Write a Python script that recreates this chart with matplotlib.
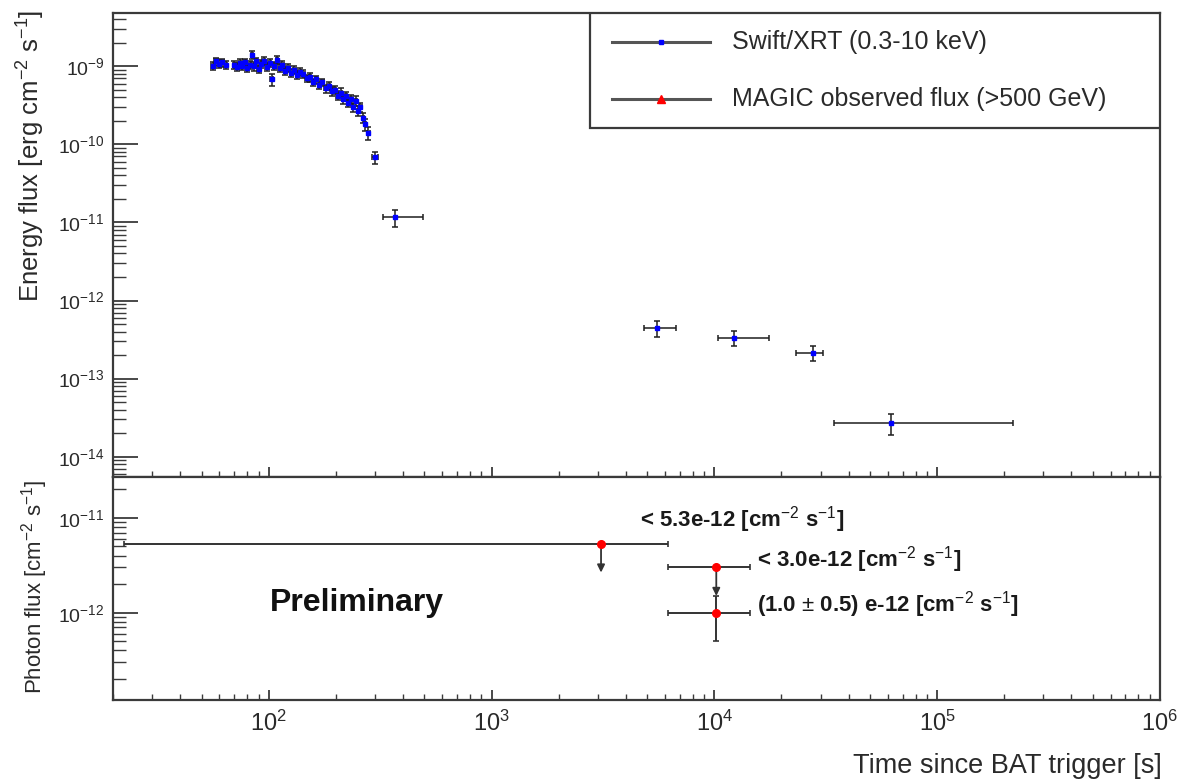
import numpy as np
import matplotlib
matplotlib.use("Agg")
import matplotlib.pyplot as plt
from matplotlib.ticker import LogLocator, NullFormatter, FuncFormatter, FixedLocator
from matplotlib.lines import Line2D
from matplotlib.patches import Rectangle

plt.rcParams['font.family'] = ['Liberation Sans', 'DejaVu Sans']
plt.rcParams['mathtext.fontset'] = 'custom'
plt.rcParams['mathtext.rm'] = 'Liberation Sans'
plt.rcParams['mathtext.it'] = 'Liberation Sans:italic'
plt.rcParams['mathtext.bf'] = 'Liberation Sans:bold'

# ---- Swift/XRT energy flux (0.3-10 keV) ----
xrt_time = [56, 58, 60, 62, 64,
            70, 72, 74, 76, 78, 80, 82, 84, 86, 88, 90, 92,
            95, 98, 101, 103, 106, 109, 112, 115, 118,
            122, 126, 130, 134, 138,
            143, 148, 153, 158, 163, 168,
            174, 180, 186, 192, 198, 204, 210, 216, 222, 228, 234, 240, 246,
            252, 258, 264, 270,
            280, 300, 370,
            5500, 12300, 27600, 62000]
xrt_time_lo = [1.0, 1.0, 1.0, 1.0, 1.0,
               1.0, 1.0, 1.0, 1.0, 1.0, 1.0, 1.0, 1.0, 1.0, 1.0, 1.0, 1.0,
               1.5, 1.5, 1.5, 1.5, 1.5, 1.5, 1.5, 1.5, 1.5,
               2.0, 2.0, 2.0, 2.0, 2.0,
               2.0, 2.0, 2.0, 2.0, 2.0, 2.0,
               3.0, 3.0, 3.0, 3.0, 3.0, 3.0, 3.0, 3.0, 3.0, 3.0, 3.0, 3.0, 3.0,
               3.0, 3.0, 3.0, 3.0,
               5.0, 8.0, 44.0,
               650, 1900, 4400, 27700]
xrt_time_hi = [1.0, 1.0, 1.0, 1.0, 1.0,
               1.0, 1.0, 1.0, 1.0, 1.0, 1.0, 1.0, 1.0, 1.0, 1.0, 1.0, 1.0,
               1.5, 1.5, 1.5, 1.5, 1.5, 1.5, 1.5, 1.5, 1.5,
               2.0, 2.0, 2.0, 2.0, 2.0,
               2.0, 2.0, 2.0, 2.0, 2.0, 2.0,
               3.0, 3.0, 3.0, 3.0, 3.0, 3.0, 3.0, 3.0, 3.0, 3.0, 3.0, 3.0, 3.0,
               3.0, 3.0, 3.0, 3.0,
               5.0, 8.0, 124.0,
               1200, 5200, 3000, 158000]
xrt_flux = [1.02e-9, 1.15e-9, 1.08e-9, 1.12e-9, 1.05e-9,
            1.05e-9, 0.98e-9, 1.10e-9, 1.02e-9, 1.12e-9, 0.95e-9, 1.05e-9, 1.40e-9,
            1.00e-9, 1.15e-9, 0.92e-9, 1.08e-9,
            1.18e-9, 0.98e-9, 1.10e-9, 0.68e-9, 1.02e-9, 1.20e-9, 0.95e-9, 1.05e-9, 0.88e-9,
            0.95e-9, 0.82e-9, 0.90e-9, 0.78e-9, 0.85e-9,
            0.80e-9, 0.70e-9, 0.72e-9, 0.62e-9, 0.68e-9, 0.58e-9,
            0.62e-9, 0.52e-9, 0.56e-9, 0.48e-9, 0.50e-9, 0.42e-9, 0.46e-9, 0.38e-9,
            0.42e-9, 0.34e-9, 0.38e-9, 0.30e-9, 0.36e-9,
            0.27e-9, 0.30e-9, 0.22e-9, 0.18e-9,
            1.4e-10, 6.8e-11, 1.16e-11,
            4.4e-13, 3.35e-13, 2.15e-13, 2.7e-14]
xrt_flux_err = [0.12e-9, 0.14e-9, 0.13e-9, 0.13e-9, 0.12e-9,
                0.12e-9, 0.11e-9, 0.13e-9, 0.12e-9, 0.13e-9, 0.11e-9, 0.12e-9, 0.17e-9,
                0.12e-9, 0.14e-9, 0.11e-9, 0.13e-9,
                0.14e-9, 0.12e-9, 0.13e-9, 0.12e-9, 0.12e-9, 0.14e-9, 0.11e-9, 0.12e-9, 0.10e-9,
                0.11e-9, 0.10e-9, 0.11e-9, 0.09e-9, 0.10e-9,
                0.09e-9, 0.08e-9, 0.09e-9, 0.07e-9, 0.08e-9, 0.07e-9,
                0.07e-9, 0.06e-9, 0.07e-9, 0.06e-9, 0.06e-9, 0.05e-9, 0.06e-9, 0.05e-9,
                0.05e-9, 0.04e-9, 0.05e-9, 0.04e-9, 0.05e-9,
                0.04e-9, 0.04e-9, 0.035e-9, 0.03e-9,
                2.5e-11, 1.2e-11, 2.8e-12,
                1.0e-13, 0.7e-13, 0.45e-13, 0.8e-14]

# ---- MAGIC photon flux (>500 GeV) ----
magic_time = [3100, 10200, 10200]
magic_time_start = [22.4, 6200, 6200]
magic_time_stop = [6200, 14400, 14400]
magic_flux = [5.3e-12, 3.0e-12, 1.0e-12]
magic_flux_err = [0.0, 0.0, 0.5e-12]
magic_is_upper_limit = [True, True, False]
magic_labels = [r"< 5.3e-12 [cm$^{-2}$ s$^{-1}$]",
                r"< 3.0e-12 [cm$^{-2}$ s$^{-1}$]",
                r"(1.0 $\pm$ 0.5) e-12 [cm$^{-2}$ s$^{-1}$]"]
magic_label_pos = [(4640, 9.5e-12), (15600, 3.6e-12), (15600, 1.21e-12)]

x_decades = [2, 3, 4, 5, 6]
top_decades = [-9, -10, -11, -12, -13, -14]
bottom_decades = [-11, -12]

# ---- figure layout ----
W, H = 1185, 784
fig = plt.figure(figsize=(W / 100, H / 100), dpi=100)
ax_top = fig.add_axes([113 / W, (H - 477) / H, 1047 / W, 464 / H])
ax_bot = fig.add_axes([113 / W, (H - 700) / H, 1047 / W, 223 / H])

axis_col = '#3a3a3a'
text_col = '#2a2a2a'


def pow10(v, pos=None):
    return r'$10^{%d}$' % int(round(np.log10(v)))


for ax, decs in ((ax_top, top_decades), (ax_bot, bottom_decades)):
    ax.set_xscale('log')
    ax.set_yscale('log')
    ax.set_xlim(20, 1e6)
    for s in ax.spines.values():
        s.set_color(axis_col)
        s.set_linewidth(1.6)
    ax.xaxis.set_major_locator(FixedLocator([10.0 ** d for d in x_decades]))
    ax.xaxis.set_minor_locator(LogLocator(base=10, subs=np.arange(2, 10), numticks=100))
    ax.yaxis.set_major_locator(FixedLocator([10.0 ** d for d in decs]))
    ax.yaxis.set_minor_locator(LogLocator(base=10, subs=np.arange(2, 10), numticks=100))
    ax.yaxis.set_major_formatter(FuncFormatter(pow10))
    ax.yaxis.set_minor_formatter(NullFormatter())
    ax.xaxis.set_minor_formatter(NullFormatter())
    ax.tick_params(axis='y', which='major', direction='in', length=18, width=1.3,
                   colors=axis_col, labelcolor=text_col, labelsize=14, pad=6,
                   right=False)
    ax.tick_params(axis='y', which='minor', direction='in', length=9, width=1.0,
                   colors=axis_col, right=False)
    ax.tick_params(axis='x', which='major', direction='in', length=7, width=1.3,
                   colors=axis_col, labelcolor=text_col, labelsize=17, pad=8,
                   top=False)
    ax.tick_params(axis='x', which='minor', direction='in', length=4, width=1.0,
                   colors=axis_col, top=False)

ax_top.set_ylim(5.5e-15, 4.8e-9)
ax_bot.set_ylim(1.2e-13, 2.7e-11)
ax_top.xaxis.set_major_formatter(NullFormatter())
ax_bot.xaxis.set_major_formatter(FuncFormatter(pow10))

# ---- XRT light curve ----
xrt_xerr = np.array([xrt_time_lo, xrt_time_hi])
ax_top.errorbar(xrt_time, xrt_flux, xerr=xrt_xerr, yerr=xrt_flux_err,
                fmt='s', ms=3.2, mfc='#0000ff', mec='#0000ff',
                ecolor='#1e1e1e', elinewidth=1.1, capsize=2, capthick=1.1, zorder=3)

# ---- MAGIC points ----
for t, t0, t1, f, fe, ul in zip(magic_time, magic_time_start, magic_time_stop,
                                magic_flux, magic_flux_err, magic_is_upper_limit):
    xerr = [[t - t0], [t1 - t]]
    ax_bot.errorbar([t], [f], xerr=xerr, yerr=None if ul else [[fe], [fe]],
                    fmt='none', ecolor='#333333', elinewidth=1.4, capsize=2,
                    capthick=1.2, zorder=2)
    if ul:
        ax_bot.annotate('', xy=(t, f * 0.5), xytext=(t, f),
                        arrowprops=dict(arrowstyle='-|>,head_length=0.45,head_width=0.22',
                                        color='#333333', lw=1.3, shrinkA=0, shrinkB=0),
                        zorder=2)
    ax_bot.plot([t], [f], 'o', ms=5.5, color='#ff0000', zorder=4)

for lab, (tx, fy) in zip(magic_labels, magic_label_pos):
    ax_bot.text(tx, fy, lab, fontsize=16, fontweight='bold', color='#1a1a1a',
                ha='left', va='center')

ax_bot.text(101, 1.27e-12, 'Preliminary', fontsize=23, fontweight='bold',
            color='#111111', ha='left', va='center')

# ---- legend box ----
y_of = lambda py: (477 - py) / 464
x_of = lambda px: (px - 113) / 1047
ax_top.add_patch(Rectangle((x_of(590), y_of(128)), 1 - x_of(590), 1 - y_of(128),
                           transform=ax_top.transAxes, fill=True, facecolor='white',
                           edgecolor=axis_col, lw=1.6, zorder=5))
legend_rows = [("Swift/XRT (0.3-10 keV)", '#0000ff', 's', 3.0, 42),
               ("MAGIC observed flux (>500 GeV)", '#ff0000', '^', 5.5, 99)]
for lab, col, mk, ms, py in legend_rows:
    ax_top.add_line(Line2D([x_of(612), x_of(710)], [y_of(py), y_of(py)],
                           transform=ax_top.transAxes, color='#555555', lw=2.2, zorder=6))
    ax_top.add_line(Line2D([x_of(661)], [y_of(py)], transform=ax_top.transAxes,
                           marker=mk, ms=ms, color=col, lw=0, zorder=7))
    ax_top.text(x_of(732), y_of(py), lab, transform=ax_top.transAxes, fontsize=18,
                color=text_col, ha='left', va='center', zorder=7)

# ---- axis titles ----
fig.text(31 / W, (H - 10) / H, r'Energy flux [erg cm$^{-2}$ s$^{-1}$]', rotation=90,
         fontsize=18.5, color=text_col, ha='center', va='top')
fig.text(35 / W, (H - 480) / H, r'Photon flux [cm$^{-2}$ s$^{-1}$]', rotation=90,
         fontsize=16, color=text_col, ha='center', va='top')
fig.text(1162 / W, (H - 773) / H, 'Time since BAT trigger [s]', fontsize=19.5,
         color=text_col, ha='right', va='baseline')

fig.savefig('out.png', dpi=100, facecolor='white')
